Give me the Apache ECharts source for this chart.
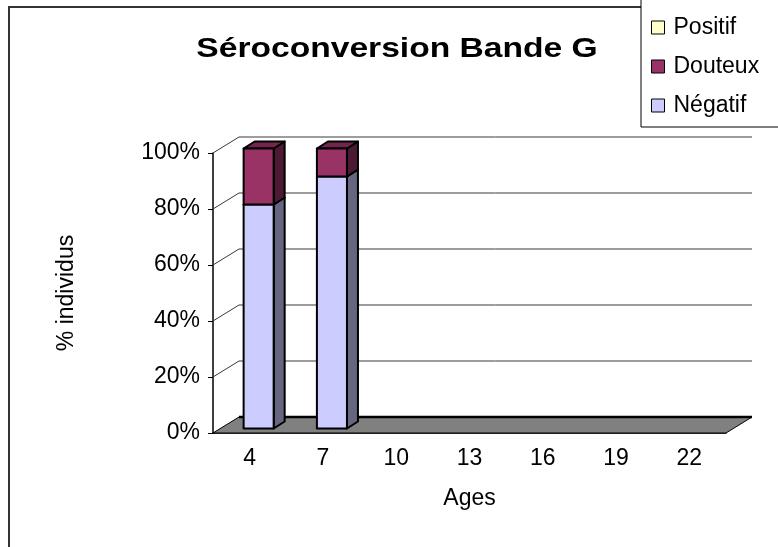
<!DOCTYPE html>
<html>
<head>
<meta charset="utf-8">
<script src="https://cdn.jsdelivr.net/npm/echarts@6/dist/echarts.min.js"></script>
<style>
  html, body { margin: 0; padding: 0; background: #fff; }
  #chart { width: 778px; height: 547px; }
</style>
</head>
<body>
<div id="chart"></div>
<script>
// values (percent of individuals per age)
const ages = ["4", "7", "10", "13", "16", "19", "22"]
const negatif = [80, 90, 0, 0, 0, 0, 0]
const douteux = [20, 10, 0, 0, 0, 0, 0]
const positif = [0, 0, 0, 0, 0, 0, 0]
const yTicks = [0, 20, 40, 60, 80, 100]

// fake 3d look (pixel offsets)
const WALL_DX = 26, WALL_DY = -16
const FACE_DX = 9, FACE_DY = -4.5
const BAR_DX = 11, BAR_DY = -7
const BAR_RATIO = 0.41
const FONT = "'Liberation Sans', Arial, sans-serif"

const colors = {
  negatif: { front: "#CCCCFF", side: "#666680", top: "#9999C0" },
  douteux: { front: "#993366", side: "#4D1A33", top: "#73264D" },
  positif: { front: "#FFFFCC", side: "#808066", top: "#BFBF99" }
}

function stackData(values, below) {
  return values.map((v, i) => {
    const base = below.reduce((s, arr) => s + arr[i], 0)
    return [i, base, base + v]
  })
}

function renderBar(c) {
  return function (params, api) {
    const cat = api.value(0)
    const lo = api.value(1)
    const hi = api.value(2)
    if (!(hi > lo)) return null
    const pb = api.coord([cat, lo])
    const pt = api.coord([cat, hi])
    const bw = api.size([1, 0])[0] * BAR_RATIO
    const xl = pb[0] - bw / 2 + FACE_DX
    const xr = xl + bw
    const yb = pb[1] + FACE_DY
    const yt = pt[1] + FACE_DY
    const line = { stroke: "#000", lineWidth: 2, lineJoin: "round" }
    return {
      type: "group",
      children: [
        {
          type: "polygon",
          shape: { points: [[xr, yt], [xr + BAR_DX, yt + BAR_DY], [xr + BAR_DX, yb + BAR_DY], [xr, yb]] },
          style: Object.assign({ fill: c.side }, line)
        },
        {
          type: "polygon",
          shape: { points: [[xl, yt], [xl + BAR_DX, yt + BAR_DY], [xr + BAR_DX, yt + BAR_DY], [xr, yt]] },
          style: Object.assign({ fill: c.top }, line)
        },
        {
          type: "rect",
          shape: { x: xl, y: yt, width: bw, height: yb - yt },
          style: Object.assign({ fill: c.front }, line)
        }
      ]
    }
  }
}

function renderWall(params, api) {
  const cs = params.coordSys
  const y = api.coord([0, api.value(1)])[1]
  const x0 = cs.x
  const x1 = cs.x + cs.width
  if (api.value(1) === 0) {
    return {
      type: "group",
      children: [
        {
          type: "polygon",
          shape: { points: [[x0, y], [x0 + WALL_DX, y + WALL_DY], [x1 + WALL_DX, y + WALL_DY], [x1, y]] },
          style: { fill: "#808080", stroke: "#000", lineWidth: 1 }
        },
        {
          type: "line",
          shape: { x1: x0 + WALL_DX, y1: y + WALL_DY, x2: x1 + WALL_DX, y2: y + WALL_DY },
          style: { stroke: "#000", lineWidth: 2.5 }
        }
      ]
    }
  }
  return {
    type: "polyline",
    shape: { points: [[x0, y], [x0 + WALL_DX, y + WALL_DY], [x1 + WALL_DX, y + WALL_DY]] },
    style: { fill: null, stroke: "#3a3a3a", lineWidth: 1 }
  }
}

const chart = echarts.init(document.getElementById("chart"))

const option = {
  animation: false,
  backgroundColor: "#fff",
  textStyle: { fontFamily: FONT, color: "#000" },
  graphic: [
    {
      type: "rect",
      z: -10,
      shape: { x: 9, y: 7, width: 900, height: 700 },
      style: { fill: null, stroke: "#333", lineWidth: 2 }
    },
    {
      type: "text",
      x: 397,
      y: 49,
      scaleX: 1.2,
      style: {
        text: "Séroconversion Bande G",
        font: "bold 28px " + FONT,
        fill: "#000",
        textAlign: "center",
        textVerticalAlign: "middle"
      }
    }
  ],
  legend: {
    data: ["Positif", "Douteux", "Négatif"],
    orient: "vertical",
    left: 641,
    top: -2,
    padding: [18, 40, 10, 10],
    itemGap: 16,
    itemWidth: 13,
    itemHeight: 13,
    backgroundColor: "#fff",
    borderColor: "#000",
    borderWidth: 1,
    icon: "rect",
    itemStyle: { borderColor: "#000", borderWidth: 1 },
    textStyle: { fontSize: 23, lineHeight: 23, color: "#000", fontFamily: FONT, padding: [0, 0, 0, 4] }
  },
  grid: { left: 213, right: 52, top: 153, bottom: 114 },
  xAxis: {
    type: "category",
    data: ages,
    name: "Ages",
    nameLocation: "middle",
    nameGap: 54,
    nameTextStyle: { fontSize: 23, color: "#000" },
    axisLine: { lineStyle: { color: "#000", width: 1.5 } },
    axisTick: { length: 6, lineStyle: { color: "#000" } },
    axisLabel: { fontSize: 23, color: "#000", margin: 14 },
    splitLine: { show: false }
  },
  yAxis: {
    type: "value",
    min: 0,
    max: 100,
    interval: 20,
    name: "% individus",
    nameLocation: "middle",
    nameGap: 135,
    nameTextStyle: { fontSize: 23, color: "#000" },
    axisLine: { show: true, lineStyle: { color: "#000", width: 1.5 } },
    axisTick: { show: true, length: 5, lineStyle: { color: "#000" } },
    axisLabel: { fontSize: 23, color: "#000", margin: 13, formatter: "{value}%" },
    splitLine: { show: false }
  },
  series: [
    {
      type: "custom",
      name: "walls",
      silent: true,
      renderItem: renderWall,
      encode: { x: 0, y: 1 },
      data: yTicks.map((v) => [0, v])
    },
    {
      type: "custom",
      name: "Négatif",
      renderItem: renderBar(colors.negatif),
      itemStyle: { color: colors.negatif.front },
      encode: { x: 0, y: [1, 2] },
      data: stackData(negatif, [])
    },
    {
      type: "custom",
      name: "Douteux",
      renderItem: renderBar(colors.douteux),
      itemStyle: { color: colors.douteux.front },
      encode: { x: 0, y: [1, 2] },
      data: stackData(douteux, [negatif])
    },
    {
      type: "custom",
      name: "Positif",
      renderItem: renderBar(colors.positif),
      itemStyle: { color: colors.positif.front },
      encode: { x: 0, y: [1, 2] },
      data: stackData(positif, [negatif, douteux])
    }
  ]
}

chart.setOption(option)
</script>
</body>
</html>
